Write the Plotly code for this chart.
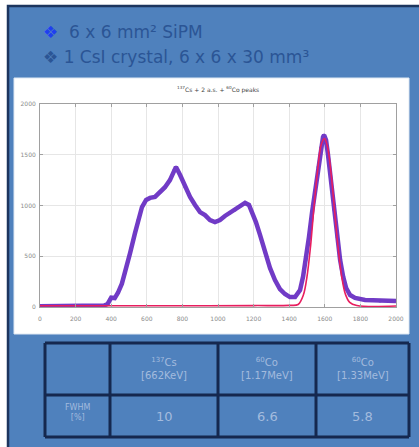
import plotly.graph_objects as go

# ---------------- data ----------------
spec_ch = [0, 100, 200, 300, 360, 380, 392, 400, 420, 438, 460, 478, 506, 534, 551, 573, 596, 618, 646,
           674, 702, 730, 753, 764, 787, 815, 843, 871, 899, 927, 955, 983, 1011, 1039, 1067, 1096,
           1124, 1152, 1174, 1191, 1213, 1236, 1264, 1292, 1320, 1348, 1376, 1404, 1433, 1461, 1478,
           1494, 1511, 1528, 1545, 1562, 1579, 1590, 1596, 1607, 1618, 1635, 1652, 1669, 1686, 1703,
           1720, 1742, 1770, 1826, 1910, 2000]
spec_counts = [8, 8, 8, 10, 15, 30, 75, 92, 88, 140, 230, 335, 530, 730, 857, 985, 1055, 1075, 1085,
               1135, 1180, 1250, 1350, 1380, 1300, 1180, 1085, 1005, 935, 905, 857, 837, 857, 897, 926, 955,
               995, 1025, 1005, 935, 837, 710, 540, 385, 266, 177, 128, 98, 98, 167, 300,
               463, 690, 925, 1150, 1380, 1575, 1675, 1695, 1645, 1500, 1250, 955, 690, 463, 300,
               187, 118, 90, 70, 60, 60]

fit_ch = [0, 400, 800, 1200, 1400, 1450, 1480, 1500, 1520, 1540, 1560, 1580, 1598, 1615, 1635, 1655,
          1675, 1695, 1715, 1740, 1780, 2000]
fit_counts = [12, 12, 12, 14, 16, 25, 120, 300, 600, 1000, 1350, 1600, 1660, 1580, 1320, 950,
              580, 300, 130, 45, 15, 10]

x_ticks = [0, 200, 400, 600, 800, 1000, 1200, 1400, 1600, 1800, 2000]
y_ticks = [0, 500, 1000, 1500, 2000]

chart_title = "<sup>137</sup>Cs + 2 a.s. + <sup>60</sup>Co peaks"
bullet_lines = ["6 x 6 mm² SiPM", "1 CsI crystal, 6 x 6 x 30 mm³"]

table_header = ["<sup>137</sup>Cs<br>[662KeV]", "<sup>60</sup>Co<br>[1.17MeV]", "<sup>60</sup>Co<br>[1.33MeV]"]
row_label = "FWHM<br>[%]"
fwhm_values = [10, 6.6, 5.8]

# ---------------- geometry ----------------
W, H = 419, 447
L, R, T, B = 40, 396, 104, 307  # plot area in px


def px(x):
    return (x - L) / (R - L)


def py(y):
    return (B - y) / (B - T)


fig = go.Figure()
fig.add_trace(go.Scatter(x=spec_ch, y=spec_counts, mode="lines+markers",
                         line=dict(color="rgb(98,38,192)", width=4.5),
                         marker=dict(color="rgb(98,38,192)", size=3),
                         opacity=0.9, showlegend=False))
fig.add_trace(go.Scatter(x=fit_ch, y=fit_counts, mode="lines",
                         line=dict(color="rgb(232,30,95)", width=1.6, shape="spline"),
                         showlegend=False))

shapes = []
# blue panel
shapes.append(dict(type="rect", xref="paper", yref="paper", layer="below",
                   x0=px(8), x1=px(425), y0=py(6), y1=py(455),
                   fillcolor="#4f81bd", line=dict(color="#1c355e", width=2.5)))
# white chart card
shapes.append(dict(type="rect", xref="paper", yref="paper", layer="below",
                   x0=px(14), x1=px(409), y0=py(78), y1=py(334),
                   fillcolor="white", line=dict(color="#dfe8f3", width=1)))
# table lines
tcols = [45, 110, 218, 316, 409]
trows = [343, 395, 437]
for xc in tcols:
    shapes.append(dict(type="line", xref="paper", yref="paper",
                       x0=px(xc), x1=px(xc), y0=py(trows[0]), y1=py(trows[-1]),
                       line=dict(color="#15284f", width=3)))
for yr in trows:
    shapes.append(dict(type="line", xref="paper", yref="paper",
                       x0=px(tcols[0]), x1=px(tcols[-1]), y0=py(yr), y1=py(yr),
                       line=dict(color="#15284f", width=3)))

ann = []
txt_color = "#2b5595"
# bullets
ann.append(dict(xref="paper", yref="paper", x=px(41), y=py(32), xanchor="left", yanchor="middle",
                showarrow=False,
                text="<span style='color:#1f3ff0'>❖</span>  " + bullet_lines[0],
                font=dict(family="DejaVu Sans", size=17, color=txt_color)))
ann.append(dict(xref="paper", yref="paper", x=px(41), y=py(57), xanchor="left", yanchor="middle",
                showarrow=False, text="❖ " + bullet_lines[1],
                font=dict(family="DejaVu Sans", size=17, color=txt_color)))
# chart title
ann.append(dict(xref="paper", yref="paper", x=px(218), y=py(89), xanchor="center", yanchor="middle",
                showarrow=False, text=chart_title,
                font=dict(family="DejaVu Sans", size=6, color="#444")))
# table text
centers = [(tcols[i] + tcols[i + 1]) / 2 for i in range(4)]
tcol = "#a3bbdd"
for i, h in enumerate(table_header):
    ann.append(dict(xref="paper", yref="paper", x=px(centers[i + 1]), y=py(368),
                    xanchor="center", yanchor="middle", showarrow=False, text=h,
                    font=dict(family="DejaVu Sans", size=10, color=tcol)))
for i, v in enumerate(fwhm_values):
    ann.append(dict(xref="paper", yref="paper", x=px(centers[i + 1]), y=py(416),
                    xanchor="center", yanchor="middle", showarrow=False, text=str(v),
                    font=dict(family="DejaVu Sans", size=13, color=tcol)))
ann.append(dict(xref="paper", yref="paper", x=px(centers[0]), y=py(412),
                xanchor="center", yanchor="middle", showarrow=False, text=row_label,
                font=dict(family="DejaVu Sans", size=8, color=tcol)))

axis_common = dict(showgrid=True, gridcolor="#e6e6e6", gridwidth=1, zeroline=False,
                   showline=True, linecolor="#a0a0a0", linewidth=1, mirror="ticks",
                   ticks="inside", ticklen=3, tickcolor="#a0a0a0",
                   tickfont=dict(family="DejaVu Sans", size=6, color="#8a8a8a"))

fig.update_layout(
    width=W, height=H, autosize=False,
    margin=dict(l=L, r=W - R, t=T, b=H - B, pad=0),
    paper_bgcolor="white", plot_bgcolor="white",
    xaxis=dict(range=[0, 2000], tickvals=x_ticks, ticktext=[str(t) for t in x_ticks],
               ticklabelstandoff=6, **axis_common),
    yaxis=dict(range=[0, 2000], tickvals=y_ticks, ticktext=[str(t) for t in y_ticks],
               ticklabelstandoff=2, **axis_common),
    shapes=shapes, annotations=ann,
)

fig.write_html("out.html")
